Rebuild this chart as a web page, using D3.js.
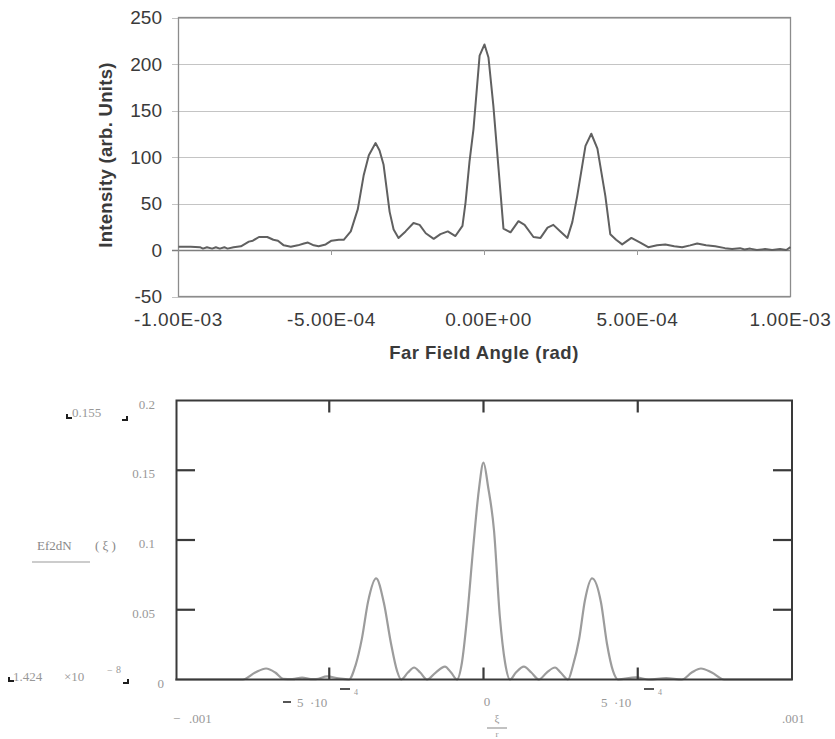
<!DOCTYPE html>
<html>
<head>
<meta charset="utf-8">
<script src="https://cdn.jsdelivr.net/npm/d3@7.9.0/dist/d3.min.js"></script>
<style>
  body { margin: 0; background: #fff; }
  svg { display: block; }
</style>
</head>
<body>
<svg id="chart" width="835" height="739"></svg>
<script>
// measured far field (top), angle in units of 1e-4 rad
const topAngle = [-10, -9.6, -9.3, -9.2, -9.07, -8.9, -8.78, -8.65, -8.5, -8.4, -8.2, -7.96, -7.7, -7.57, -7.37, -7.1, -6.9, -6.75, -6.56, -6.33,
  -6.1, -5.9, -5.77, -5.58, -5.42, -5.19, -5.0, -4.76, -4.6, -4.37, -4.14, -3.95, -3.78, -3.56, -3.43, -3.3, -3.1, -2.97, -2.81, -2.58,
  -2.32, -2.12, -1.92, -1.66, -1.44, -1.2, -0.95, -0.72, -0.62, -0.49, -0.36, -0.16, 0, 0.13, 0.29, 0.46, 0.62, 0.85, 1.11, 1.31,
  1.6, 1.83, 2.06, 2.25, 2.48, 2.71, 2.87, 3.03, 3.3, 3.49, 3.69, 3.95, 4.11, 4.3, 4.5, 4.8, 5.09, 5.35, 5.64, 5.91,
  6.2, 6.46, 6.72, 6.95, 7.24, 7.54, 7.86, 8.09, 8.35, 8.5, 8.68, 8.9, 9.17, 9.4, 9.66, 9.86, 10];
const topIntensity = [3.5, 3.5, 3, 1.5, 3, 1.5, 3, 1.5, 3, 1.5, 3, 4, 9, 10, 14, 14, 11, 10, 5, 3.5,
  5, 7, 8, 5, 4, 6, 10, 11, 11, 20, 44, 80, 102, 115, 107, 92, 41, 22, 13, 20,
  29, 27, 18, 12, 17, 20, 15, 26, 51, 95, 130, 209, 221, 207, 155, 87, 23, 19, 31, 27,
  14, 13, 24, 27, 20, 13, 30, 58, 112, 125, 109, 58, 17, 11, 6, 13, 8, 3, 5, 6,
  4, 3, 5, 7, 5, 4, 2, 1, 2, 0.5, 1.5, 0, 1, 0, 1, 0, 3];
const topYTicks = [-50, 0, 50, 100, 150, 200, 250];
const topXTicks = [-10, -5, 0, 5, 10];
const topXLabels = ["-1.00E-03", "-5.00E-04", "0.00E+00", "5.00E-04", "1.00E-03"];

// calculated Ef2dN (bottom), angle in units of 1e-4 rad
const botAngle = [-10, -7.8, -7.4, -7.05, -6.75, -6.5, -6.2, -5.88, -5.6, -5.43, -5.07, -4.7, -4.36, -4.15, -3.94, -3.74, -3.48, -3.23, -3.0, -2.8,
  -2.67, -2.45, -2.25, -2.05, -1.83, -1.55, -1.25, -1.05, -0.86, -0.7, -0.53, -0.34, -0.15, 0, 0.15, 0.34, 0.53, 0.7, 0.86, 1.05,
  1.31, 1.55, 1.8, 2.05, 2.32, 2.5, 2.74, 2.9, 3.1, 3.29, 3.52, 3.81, 4.0, 4.2, 4.36, 4.94, 5.36, 5.92, 6.43, 6.75,
  7.05, 7.4, 7.8, 10];
const botValue = [0, 0, 0.005, 0.0079, 0.005, 0.0005, 0.0002, 0.0014, 0.0003, 0.0002, 0.0022, 0.0008, 0, 0.01, 0.0295, 0.056, 0.0725, 0.055, 0.026, 0.006,
  0, 0.005, 0.0086, 0.005, 0, 0.005, 0.0093, 0.005, 0, 0.012, 0.045, 0.093, 0.136, 0.1555, 0.138, 0.107, 0.045, 0.012, 0, 0.005,
  0.0093, 0.005, 0, 0.005, 0.0086, 0.005, 0, 0.01, 0.029, 0.057, 0.0725, 0.055, 0.026, 0.006, 0, 0.0015, 0, 0.001, 0, 0.005,
  0.0079, 0.005, 0, 0];
const botYTicks = [0.05, 0.1, 0.15];
const botXTicks = [-5, 0, 5];

const svg = d3.select("#chart");

// ---------- top chart ----------
const xTop = d3.scaleLinear().domain([-10, 10]).range([178.5, 790.5]);
const yTop = d3.scaleLinear().domain([-50, 250]).range([296.5, 17.5]);
const gTop = svg.append("g").attr("font-family", "'Liberation Sans', Arial, sans-serif").attr("fill", "#3a3a3a");

gTop.selectAll(".grid").data(topYTicks).join("line")
  .attr("x1", 172).attr("x2", xTop(10))
  .attr("y1", d => Math.round(yTop(d)) + 0.5).attr("y2", d => Math.round(yTop(d)) + 0.5)
  .attr("stroke", d => d === 0 ? "#7e7e7e" : "#c4c4c4").attr("stroke-width", d => d === 0 ? 1.5 : 1);

gTop.append("rect")
  .attr("x", xTop(-10)).attr("y", yTop(250))
  .attr("width", xTop(10) - xTop(-10)).attr("height", yTop(-50) - yTop(250))
  .attr("fill", "none").attr("stroke", "#8c8c8c").attr("stroke-width", 1.3);

gTop.selectAll(".xt").data(topXTicks.slice(1, 4)).join("line")
  .attr("x1", d => xTop(d)).attr("x2", d => xTop(d))
  .attr("y1", yTop(0)).attr("y2", yTop(0) + 5)
  .attr("stroke", "#9a9a9a");

const line = d3.line().x(d => xTop(d[0])).y(d => yTop(d[1]));
gTop.append("path")
  .datum(d3.zip(topAngle, topIntensity))
  .attr("d", line)
  .attr("fill", "none").attr("stroke", "#606060").attr("stroke-width", 2).attr("stroke-linejoin", "round");

gTop.selectAll(".yl").data(topYTicks).join("text")
  .attr("x", 162).attr("y", d => yTop(d)).attr("dy", "0.36em")
  .attr("text-anchor", "end").attr("font-size", 19)
  .text(d => d);

gTop.selectAll(".xl").data(topXTicks).join("text")
  .attr("x", (d, i) => xTop(d) + (i === 2 ? 4 : 0)).attr("y", 326)
  .attr("text-anchor", "middle").attr("font-size", 19).attr("letter-spacing", 0.6)
  .text((d, i) => topXLabels[i]);

gTop.append("text")
  .attr("x", 484).attr("y", 359).attr("text-anchor", "middle")
  .attr("font-size", 18.5).attr("font-weight", "bold").attr("letter-spacing", 0.5)
  .text("Far Field Angle (rad)");

gTop.append("text")
  .attr("transform", "translate(112,155) rotate(-90)").attr("text-anchor", "middle")
  .attr("font-size", 18.5).attr("font-weight", "bold").attr("letter-spacing", 0.3)
  .text("Intensity (arb. Units)");

// ---------- bottom chart ----------
const xBot = d3.scaleLinear().domain([-10, 10]).range([175, 792]);
const yBot = d3.scaleLinear().domain([0, 0.2]).range([679.5, 400.5]);
const bot = svg.append("g").attr("font-family", "'Liberation Serif', 'Times New Roman', serif").attr("font-size", 13).attr("fill", "#989898");

const curve = d3.line().curve(d3.curveMonotoneX).x(d => xBot(d[0])).y(d => yBot(d[1]));
bot.append("path")
  .datum(d3.zip(botAngle, botValue))
  .attr("d", curve)
  .attr("fill", "none").attr("stroke", "#9c9c9c").attr("stroke-width", 2.2);

bot.append("rect")
  .attr("x", 176.5).attr("y", yBot(0.2))
  .attr("width", xBot(10) - 176.5).attr("height", yBot(0) - yBot(0.2))
  .attr("fill", "none").attr("stroke", "#3a3a3a").attr("stroke-width", 2);

const tk = bot.append("g").attr("stroke", "#3a3a3a").attr("stroke-width", 2.2);
tk.selectAll(".l").data(botYTicks).join("line")
  .attr("x1", 176.5).attr("x2", 195).attr("y1", d => yBot(d)).attr("y2", d => yBot(d));
tk.selectAll(".r").data(botYTicks).join("line")
  .attr("x1", 773).attr("x2", xBot(10)).attr("y1", d => yBot(d)).attr("y2", d => yBot(d));
tk.selectAll(".t").data(botXTicks).join("line")
  .attr("x1", d => xBot(d)).attr("x2", d => xBot(d)).attr("y1", yBot(0.2)).attr("y2", yBot(0.2) + 12);
tk.selectAll(".b").data(botXTicks).join("line")
  .attr("x1", d => xBot(d)).attr("x2", d => xBot(d)).attr("y1", yBot(0)).attr("y2", yBot(0) - 12);

// y tick labels (Mathcad places them a little under each tick)
bot.selectAll(".yl").data([0.2, 0.15, 0.1, 0.05]).join("text")
  .attr("x", 155).attr("y", d => yBot(d) + 8).attr("text-anchor", "end")
  .text(d => d);
bot.append("text").attr("x", 164).attr("y", 688).attr("text-anchor", "end").text("0");

// upper / lower limit placeholders (small black corner marks)
const corner = (x, y, left) => bot.append("path")
  .attr("d", left ? `M${x},${y - 4}V${y}H${x + 5}` : `M${x},${y}H${x + 5}V${y - 4}`)
  .attr("fill", "none").attr("stroke", "#1e1e1e").attr("stroke-width", 2);
corner(67, 418, true);
bot.append("text").attr("x", 72).attr("y", 417).text("0.155");
corner(122, 420, false);

corner(9, 681, true);
bot.append("text").attr("x", 13).attr("y", 681).text("1.424");
bot.append("text").attr("x", 64).attr("y", 681).text("×10");
bot.append("text").attr("x", 107).attr("y", 674).attr("font-size", 10).text("−");
bot.append("text").attr("x", 116).attr("y", 673).attr("font-size", 10).text("8");
corner(123, 683, false);

// function label
bot.append("text").attr("x", 37).attr("y", 550).attr("fill", "#888").text("Ef2dN");
bot.append("text").attr("x", 95).attr("y", 550).attr("fill", "#888").text("( ξ )");
bot.append("line").attr("x1", 32).attr("x2", 90).attr("y1", 562).attr("y2", 562).attr("stroke", "#999").attr("stroke-width", 1.2);

// x labels
const dash = (x, y, w) => bot.append("line").attr("x1", x).attr("x2", x + w).attr("y1", y).attr("y2", y).attr("stroke", "#555").attr("stroke-width", 2);
dash(283, 702, 8);
bot.append("text").attr("x", 297).attr("y", 707).text("5");
bot.append("text").attr("x", 310).attr("y", 707).text("·10");
dash(340, 689, 10);
bot.append("text").attr("x", 354).attr("y", 695).attr("font-size", 8).text("4");

bot.append("text").attr("x", 487).attr("y", 706).attr("text-anchor", "middle").text("0");

bot.append("text").attr("x", 601).attr("y", 707).text("5");
bot.append("text").attr("x", 614).attr("y", 707).text("·10");
dash(644, 689, 10);
bot.append("text").attr("x", 658).attr("y", 695).attr("font-size", 8).text("4");

bot.append("text").attr("x", 173).attr("y", 723).text("−");
bot.append("text").attr("x", 189).attr("y", 723).text(".001");
bot.append("text").attr("x", 782).attr("y", 723).text(".001");

bot.append("text").attr("x", 497).attr("y", 722).attr("text-anchor", "middle").attr("font-size", 11).text("ξ");
bot.append("line").attr("x1", 487).attr("x2", 507).attr("y1", 728).attr("y2", 728).attr("stroke", "#999").attr("stroke-width", 1.2);
bot.append("text").attr("x", 497).attr("y", 737).attr("text-anchor", "middle").attr("font-size", 9).text("r");
</script>
</body>
</html>
